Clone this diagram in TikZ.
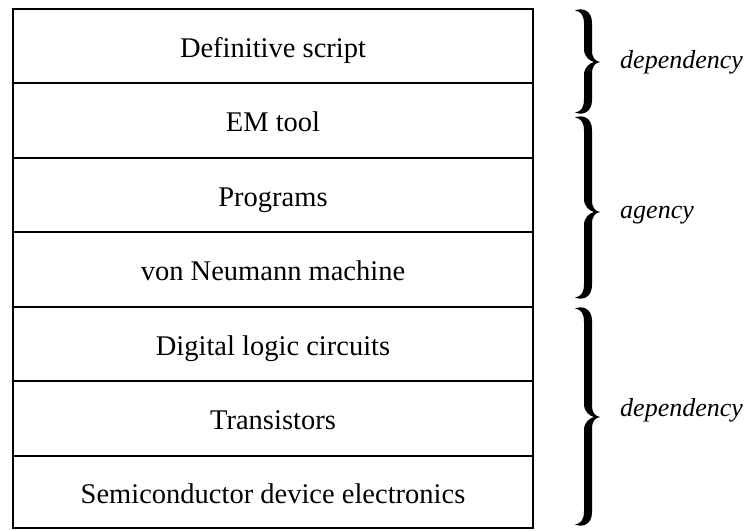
\documentclass[tikz,border=0pt]{standalone}
\usepackage{fontspec}
\setmainfont{Liberation Serif}
\newcommand\mybrace[4]{% #1 x, #2 top, #3 tip, #4 bottom
 \fill ({#1},{#2+1.5}) .. controls ({#1+7},{#2-1.5}) and ({#1+17},{#2+1}) .. ({#1+17},{#2+14})
 -- ({#1+17},{#3-12}) .. controls ({#1+17},{#3-4}) and ({#1+20},{#3-1}) .. ({#1+25},{#3})
 .. controls ({#1+20},{#3+1}) and ({#1+17},{#3+4}) .. ({#1+17},{#3+12})
 -- ({#1+17},{#4-14}) .. controls ({#1+17},{#4-1}) and ({#1+7},{#4+1.5}) .. ({#1},{#4-1.5})
 .. controls ({#1+6},{#4-2.5}) and ({#1+9},{#4-6}) .. ({#1+9},{#4-15})
 -- ({#1+9},{#3+13}) .. controls ({#1+9},{#3+5}) and ({#1+15},{#3+1}) .. ({#1+19},{#3})
 .. controls ({#1+15},{#3-1}) and ({#1+9},{#3-5}) .. ({#1+9},{#3-13})
 -- ({#1+9},{#2+15}) .. controls ({#1+9},{#2+6}) and ({#1+6},{#2+2.5}) .. ({#1},{#2+1.5}) -- cycle;}
\tikzset{
  rowbox/.style={draw, line width=2pt, minimum width=520pt, inner sep=0pt,
    text height=26pt, text depth=4pt, font=\fontsize{28.5}{32}\selectfont},
  lbl/.style={anchor=base west, inner sep=0pt, font=\fontsize{26}{30}\selectfont\itshape}
}
\begin{document}
\begin{tikzpicture}[x=1pt,y=-1pt]
\useasboundingbox (0,0) rectangle (746,530);
\node[rowbox, minimum height=74pt] (r1) at (273,46) {Definitive script};
\node[rowbox, minimum height=75pt] (r2) at (273,120.5) {EM tool};
\node[rowbox, minimum height=74pt] (r3) at (273,195) {Programs};
\node[rowbox, minimum height=75pt] (r4) at (273,269.5) {von Neumann machine};
\node[rowbox, minimum height=74pt] (r5) at (273,344) {Digital logic circuits};
\node[rowbox, minimum height=75pt] (r6) at (273,418.5) {Transistors};
\node[rowbox, minimum height=72pt] (r7) at (273,492) {Semiconductor device electronics};
\mybrace{575}{9}{62}{114}
\mybrace{575}{116}{212}{299}
\mybrace{575}{307}{417}{526}
\node[lbl] (l1) at (620,68) {dependency};
\node[lbl] (l2) at (620,218) {agency};
\node[lbl] (l3) at (620,416) {dependency};
\end{tikzpicture}
\end{document}
